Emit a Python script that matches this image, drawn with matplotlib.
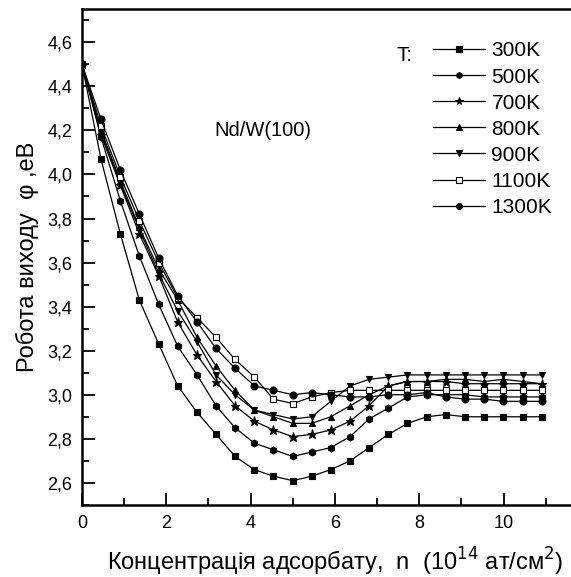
import matplotlib
matplotlib.use("Agg")
import matplotlib.pyplot as plt
from matplotlib.ticker import MultipleLocator, FuncFormatter

plt.rcParams['font.family'] = ['Liberation Sans', 'DejaVu Sans']

# concentration, 10^14 at/cm^2
n = [0, 0.45, 0.91, 1.36, 1.82, 2.27, 2.73, 3.18, 3.63, 4.09, 4.54, 5.0, 5.45,
     5.9, 6.36, 6.81, 7.27, 7.72, 8.18, 8.63, 9.08, 9.54, 9.99, 10.45, 10.9]

phi_300 = [4.50, 4.07, 3.73, 3.43, 3.23, 3.04, 2.92, 2.82, 2.72, 2.66, 2.63, 2.61, 2.63,
           2.66, 2.70, 2.76, 2.82, 2.87, 2.90, 2.91, 2.90, 2.90, 2.90, 2.90, 2.90]
phi_500 = [4.50, 4.17, 3.88, 3.63, 3.41, 3.22, 3.09, 2.95, 2.85, 2.78, 2.75, 2.72, 2.74,
           2.76, 2.81, 2.89, 2.94, 2.99, 3.00, 3.00, 3.00, 2.99, 2.99, 2.99, 2.99]
phi_700 = [4.50, 4.18, 3.95, 3.73, 3.54, 3.33, 3.18, 3.06, 2.95, 2.88, 2.84, 2.81, 2.82,
           2.84, 2.88, 2.95, 3.04, 3.06, 3.06, 3.06, 3.05, 3.05, 3.05, 3.05, 3.05]
phi_800 = [4.50, 4.20, 3.97, 3.76, 3.57, 3.43, 3.26, 3.13, 3.02, 2.93, 2.90, 2.87, 2.87,
           2.90, 2.95, 3.00, 3.04, 3.06, 3.06, 3.07, 3.07, 3.06, 3.07, 3.06, 3.05]
phi_900 = [4.50, 4.19, 3.96, 3.75, 3.55, 3.38, 3.24, 3.09, 3.00, 2.93, 2.91, 2.89, 2.90,
           2.97, 3.04, 3.07, 3.08, 3.09, 3.09, 3.09, 3.09, 3.09, 3.09, 3.09, 3.09]
phi_1100 = [4.50, 4.22, 3.99, 3.79, 3.60, 3.44, 3.35, 3.26, 3.16, 3.08, 2.98, 2.96, 2.99,
            3.01, 3.02, 3.02, 3.02, 3.02, 3.02, 3.02, 3.02, 3.02, 3.02, 3.02, 3.02]
phi_1300 = [4.50, 4.25, 4.02, 3.82, 3.62, 3.45, 3.33, 3.21, 3.12, 3.04, 3.02, 3.00, 3.01,
            3.00, 2.99, 2.99, 3.00, 3.00, 3.01, 2.99, 2.98, 2.98, 2.97, 2.97, 2.97]

series = [
    ("300K", phi_300, "s", "black"),
    ("500K", phi_500, "h", "black"),
    ("700K", phi_700, "*", "black"),
    ("800K", phi_800, "^", "black"),
    ("900K", phi_900, "v", "black"),
    ("1100K", phi_1100, "s", "white"),
    ("1300K", phi_1300, "o", "black"),
]

fig = plt.figure(figsize=(5.71, 5.77), dpi=100)
# the original picture is cut on the right, so the frame runs past the edge
ax = fig.add_axes([0.1436, 0.125, 0.886, 0.859])

for label, vals, mk, fc in series:
    ms = 6.5 if mk == "*" else 5
    ax.plot(n, vals, color="black", lw=0.9, marker=mk, markersize=ms,
            markerfacecolor=fc, markeredgecolor="black", markeredgewidth=0.8,
            label=label)

ax.set_xlim(0, 12)
ax.set_ylim(2.5, 4.75)
ax.xaxis.set_major_locator(MultipleLocator(2))
ax.xaxis.set_minor_locator(MultipleLocator(1))
ax.yaxis.set_major_locator(MultipleLocator(0.2))
ax.yaxis.set_minor_locator(MultipleLocator(0.1))
ax.xaxis.set_major_formatter(FuncFormatter(lambda v, p: "" if v > 11 else f"{v:g}"))
ax.yaxis.set_major_formatter(FuncFormatter(lambda v, p: f"{v:.1f}".replace(".", ",")))
ax.tick_params(which="both", direction="in", top=False, right=False,
               labelsize=13, width=1.3, pad=7)
ax.tick_params(which="major", length=9)
ax.tick_params(which="minor", length=5)
for s in ax.spines.values():
    s.set_linewidth(1.8)
ax.spines["right"].set_visible(False)

ax.set_xlabel("Концентрація адсорбату,  n  (10$^{14}$ ат/см$^2$)", fontsize=17, labelpad=10)
ax.set_ylabel("Робота виходу  φ ,еВ", fontsize=17, labelpad=6)

ax.text(3.15, 4.20, "Nd/W(100)", fontsize=14.5, ha="left", va="center")
ax.text(7.46, 4.54, "T:", fontsize=15, ha="left", va="center")

leg = ax.legend(loc="upper left", bbox_to_anchor=(0.694, 0.935), frameon=False,
                fontsize=15, handlelength=2.5, handletextpad=0.3, labelspacing=0.34,
                borderaxespad=0, borderpad=0, markerscale=0.85)

fig.savefig("out.png", dpi=100)
